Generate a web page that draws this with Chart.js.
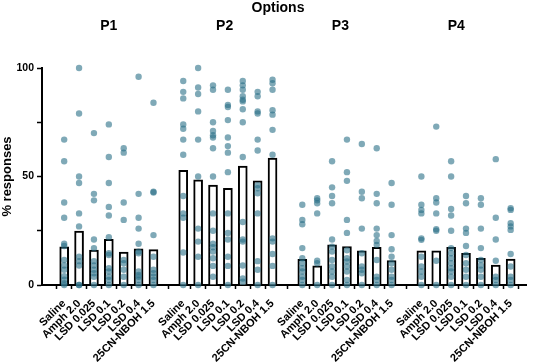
<!DOCTYPE html>
<html lang="en">
<head>
<meta charset="UTF-8" />
<title>Options - % responses</title>
<style>
  * { margin: 0; padding: 0; box-sizing: border-box; }
  body { background: #fff; }
  .chartBox { width: 533px; height: 364px; }
</style>
</head>
<body>
<div class="chartBox"><canvas id="myChart"></canvas></div>
<script src="https://cdn.jsdelivr.net/npm/chart.js"></script>
<script>
const groups = ["P1", "P2", "P3", "P4"];
const drugs = ["Saline", "Amph 2.0", "LSD 0.025", "LSD 0.1", "LSD 0.2", "LSD 0.4", "25CN-NBOH 1.5"];
const yTicks = [0, 25, 50, 75, 100];
const yTickLabels = ["0", "", "50", "", "100"];

// bar heights (group means), one array per option
const p1Means = [17.6, 24.9, 16.1, 21.0, 15.2, 16.7, 16.3];
const p2Means = [52.8, 48.5, 46.0, 44.5, 54.8, 48.0, 58.5];
const p3Means = [11.8, 8.8, 18.5, 17.7, 15.7, 17.4, 11.2];
const p4Means = [15.8, 15.8, 17.4, 14.6, 12.3, 9.2, 12.0];

// individual responses
const p1Points = [
  [67, 57, 38, 31, 19, 18, 11.5, 9, 7, 4, 2.5, 0.8, 0],
  [100, 79, 50, 47, 33, 27, 13, 11, 9, 0, 0],
  [70, 42, 39, 21, 17, 11, 9, 7, 5.4, 3.8, 0],
  [74, 59, 47, 36, 32, 22, 14.6, 13.8, 7.7, 6.2, 3.8, 2.3, 0],
  [63, 61, 38, 30, 11.5, 10, 7, 3.8, 0],
  [96, 42, 31, 26, 19, 15.4, 14.6, 6.2, 4.6, 3.8, 2.3, 0],
  [84, 43, 42.6, 23, 13, 7, 5.4, 3.8, 2.3, 0]
];
const p2Points = [
  [94, 89, 86, 74, 72, 67, 60, 41, 33, 31, 15, 0],
  [100, 91, 88, 80, 67, 50, 26, 20, 13, 0],
  [92, 90, 75, 71, 69, 68, 63, 50, 33, 25, 19, 17.4, 15.4, 12.3, 8.8, 3.8],
  [90, 83, 82, 76, 68, 64, 61, 52, 33, 24, 21, 13, 8.8, 0],
  [94, 92, 90, 87, 85.4, 84.6, 81, 75, 59, 29, 21, 20, 9, 3, 1.5],
  [89, 87, 80, 79, 67, 62, 46, 44.6, 42.3, 33, 11, 7, 0],
  [94.6, 93, 90, 80.5, 78.5, 71.5, 60, 21.5, 20, 14.3, 8.8, 0]
];
const p3Points = [
  [37, 30, 28, 17, 12.3, 10, 7.7, 6.2, 3.8, 2.3, 0],
  [40, 39, 37.7, 33, 11.2, 10, 0],
  [57, 45, 41, 37.7, 21, 17.7, 15.4, 11.5, 8.5, 6.2, 3.8, 0],
  [67, 52, 48, 30, 24, 16, 12.3, 10.8, 8.5, 6.2, 2.3, 0],
  [65, 43, 40, 26, 14.6, 8.5, 7, 5.4, 0],
  [63, 42, 37.7, 26, 23, 20.3, 18.5, 11.5, 3.8, 2.3, 0],
  [47, 37, 23, 16.5, 13, 10, 7, 3.8, 2.3, 0]
];
const p4Points = [
  [50, 37, 34.6, 33, 21.5, 20.8, 13, 8.5, 6.2, 3.8, 0],
  [73, 40, 38, 33, 25.7, 25, 11.2, 0],
  [57, 50, 35, 32, 25, 17, 14.6, 12.3, 10, 7.7, 6.2, 3.8, 0],
  [41, 37.7, 26, 24, 18, 13.8, 10, 7, 3.8, 0],
  [40, 37, 26, 17, 11.5, 9, 7, 3.8, 0],
  [58, 31, 21, 11.2, 3.8, 2.3, 0],
  [35.4, 34.6, 28.5, 27, 25.4, 14.3, 8.5, 3.8, 2.3, 0]
];

const allMeans = [p1Means, p2Means, p3Means, p4Means];
const allPoints = [p1Points, p2Points, p3Points, p4Points];

// x position of each bar: 7 bars per option, one empty slot between options
const slot = (g, i) => g * 8 + i;

const barData = [];
const dotData = [];
const tickLabelAt = {};
allMeans.forEach((means, g) => {
  means.forEach((m, i) => {
    barData.push({ x: slot(g, i), y: m });
    tickLabelAt[slot(g, i)] = drugs[i];
    allPoints[g][i].forEach((v) => dotData.push({ x: slot(g, i), y: v }));
  });
});

const FONT = "'Liberation Sans', Arial, sans-serif";

const groupTitles = {
  id: "groupTitles",
  afterDraw(chart) {
    const { ctx, scales } = chart;
    ctx.save();
    ctx.fillStyle = "#000";
    ctx.textAlign = "center";
    ctx.textBaseline = "middle";
    ctx.font = "bold 14px " + FONT;
    ctx.fillText("Options", 278, 8);
    groups.forEach((name, g) => {
      const x = scales.x.getPixelForValue(3 + g * 7.78);
      ctx.fillText(name, x, 26);
    });
    ctx.restore();
  },
};

const config = {
  data: {
    datasets: [
      {
        type: "scatter",
        data: dotData,
        backgroundColor: "rgba(42, 112, 135, 0.6)",
        borderWidth: 0,
        pointRadius: 3.2,
        clip: false,
        order: 0,
      },
      {
        type: "bar",
        data: barData,
        backgroundColor: "#ffffff",
        borderColor: "#000000",
        borderWidth: 2,
        barThickness: 9,
        order: 1,
      },
    ],
  },
  options: {
    responsive: true,
    maintainAspectRatio: false,
    animation: false,
    layout: { padding: { top: 68, right: 7, left: 0, bottom: 0 } },
    plugins: {
      legend: { display: false },
      tooltip: { enabled: false },
    },
    scales: {
      x: {
        type: "linear",
        min: -0.91,
        max: 30.45,
        afterFit: (scale) => { scale.height = 79; },
        afterBuildTicks: (scale) => {
          scale.ticks = Object.keys(tickLabelAt).map((v) => ({ value: Number(v) }));
        },
        ticks: {
          autoSkip: false,
          maxRotation: 45,
          minRotation: 45,
          padding: 8,
          color: "#000",
          font: { family: FONT, size: 11, weight: "bold" },
          callback: (v) => tickLabelAt[v] || "",
        },
        grid: {
          drawOnChartArea: false,
          tickLength: 4,
          tickWidth: 1.5,
          color: "#000",
        },
        border: { color: "#000", width: 2 },
      },
      y: {
        min: 0,
        max: 100,
        afterFit: (scale) => { scale.width = 42; },
        afterBuildTicks: (scale) => {
          scale.ticks = yTicks.map((v) => ({ value: v }));
        },
        ticks: {
          padding: 3,
          color: "#000",
          font: { family: FONT, size: 10.5, weight: "bold" },
          callback: (v) => yTickLabels[yTicks.indexOf(v)],
        },
        grid: {
          drawOnChartArea: false,
          tickLength: 5,
          tickWidth: 1.5,
          color: "#000",
        },
        border: { color: "#000", width: 2 },
        title: {
          display: true,
          text: "% responses",
          color: "#000",
          padding: { top: 0, bottom: 0 },
          font: { family: FONT, size: 13, weight: "bold" },
        },
      },
    },
  },
  plugins: [groupTitles],
};

const myChart = new Chart(document.getElementById("myChart"), config);
</script>
</body>
</html>
